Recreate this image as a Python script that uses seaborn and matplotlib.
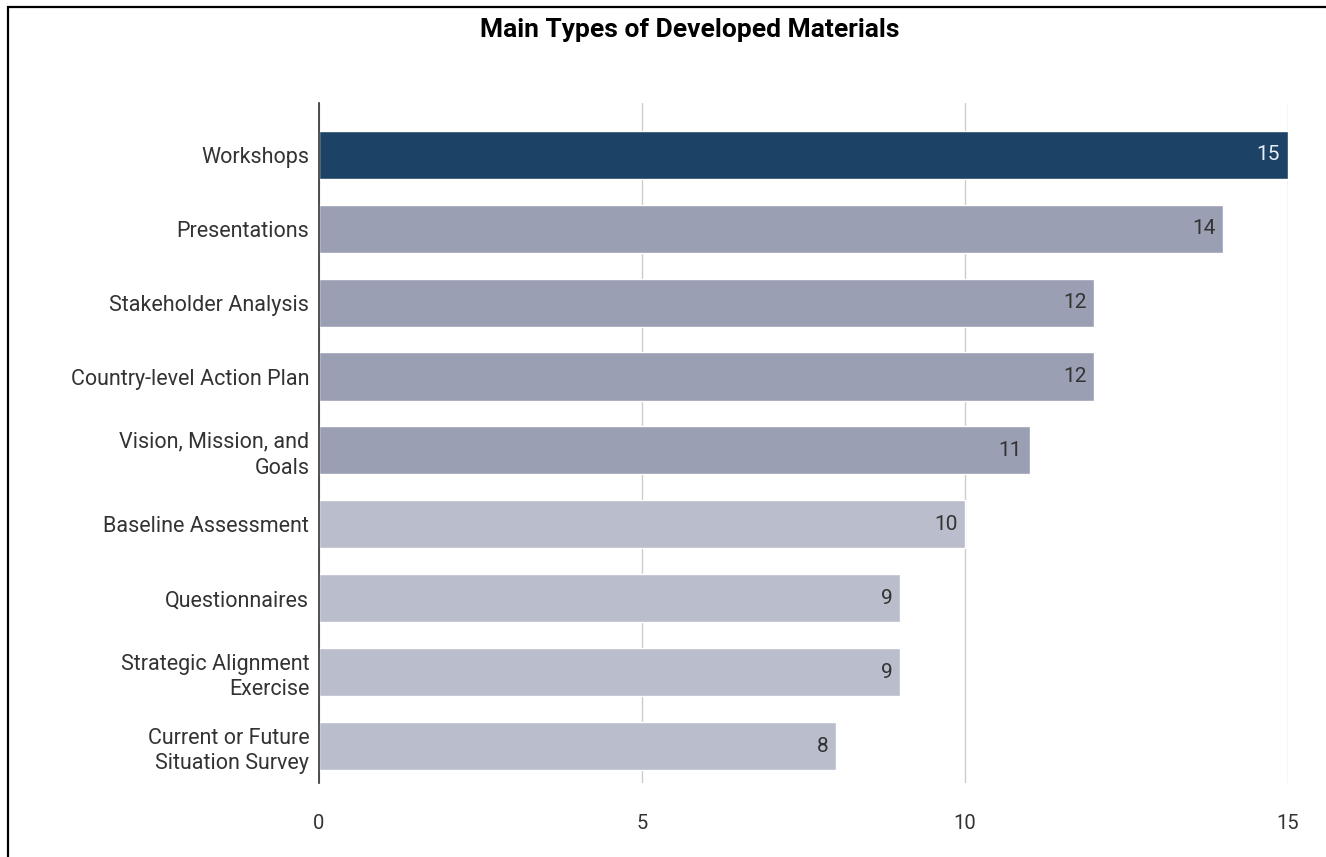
import seaborn as sns
import matplotlib.pyplot as plt
import pandas as pd
from matplotlib.patches import Rectangle

categories = ["Workshops", "Presentations", "Stakeholder Analysis", "Country-level Action Plan",
              "Vision, Mission, and\nGoals", "Baseline Assessment", "Questionnaires",
              "Strategic Alignment\nExercise", "Current or Future\nSituation Survey"]
counts = [15, 14, 12, 12, 11, 10, 9, 9, 8]
bar_colors = ["#1c4266", "#9a9fb4", "#9a9fb4", "#9a9fb4", "#9a9fb4",
              "#babecc", "#babecc", "#babecc", "#babecc"]
label_colors = ["#e8edf3"] + ["#333333"] * 8
x_ticks = [0, 5, 10, 15]

df = pd.DataFrame({"material": categories, "count": counts})

sns.set_style("white")
plt.rcParams["font.family"] = ["Roboto", "DejaVu Sans"]

fig = plt.figure(figsize=(13.26, 8.57), dpi=100)
ax = fig.add_axes([0.2406, 0.0863, 0.7307, 0.7935])

sns.barplot(data=df, y="material", x="count", hue="material",
            palette=dict(zip(categories, bar_colors)), legend=False,
            width=0.65, saturation=1, ax=ax, zorder=3)

for i, (v, c) in enumerate(zip(counts, label_colors)):
    ax.text(v - 0.12, i, str(v), ha="right", va="center", fontsize=15, color=c, zorder=4)

ax.set_xlim(0, 15)
ax.set_ylim(8.5, -0.7)
ax.set_xticks(x_ticks)
ax.set_xticklabels([str(t) for t in x_ticks], fontsize=14.5, color="#333333")
ax.tick_params(axis="y", labelsize=15.5, colors="#333333", length=0, pad=7)
ax.tick_params(axis="x", length=0, pad=22)
for lbl in ax.get_yticklabels():
    lbl.set_linespacing(1.3)
ax.xaxis.grid(True, color="#cccccc", linewidth=1)
ax.set_axisbelow(True)
ax.set_xlabel("")
ax.set_ylabel("")
for s in ["top", "right", "bottom"]:
    ax.spines[s].set_visible(False)
ax.spines["left"].set_color("#333333")
ax.spines["left"].set_linewidth(1.2)
ax.spines["left"].set_zorder(5)

fig.text(0.52, 0.965, "Main Types of Developed Materials", ha="center", va="center",
         fontsize=19, fontweight="bold", color="black")
fig.patches.append(Rectangle((0.0064, -0.05), 1.2, 1.0424, transform=fig.transFigure,
                             fill=False, edgecolor="black", linewidth=1.6))

fig.savefig("out.png", dpi=100)
